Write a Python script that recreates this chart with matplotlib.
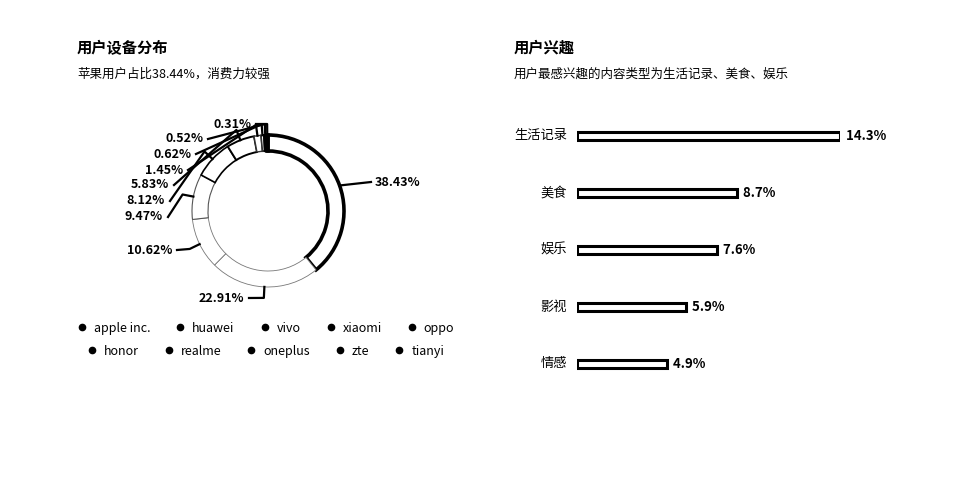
import matplotlib
matplotlib.use('Agg')
import matplotlib.pyplot as plt
import numpy as np

plt.rcParams['font.family'] = ['Noto Sans CJK SC', 'DejaVu Sans']

"------------------DATA"
brands = ['apple inc.', 'huawei', 'vivo', 'xiaomi', 'oppo',
          'honor', 'realme', 'oneplus', 'zte', 'tianyi']
shares = [38.43, 22.91, 10.62, 9.47, 8.12, 5.83, 1.45, 0.62, 0.52, 0.31]

topics = ['生活记录', '美食', '娱乐', '影视', '情感']
topic_pct = [14.3, 8.7, 7.6, 5.9, 4.9]

title_left = '用户设备分布'
sub_left = '苹果用户占比38.44%，消费力较强'
title_right = '用户兴趣'
sub_right = '用户最感兴趣的内容类型为生活记录、美食、娱乐'
"----------------------------"

W, H = 972, 490
fig = plt.figure(figsize=(W/100, H/100), dpi=100)
ax = fig.add_axes([0, 0, 1, 1])

def Y(y):
    # pixel row -> data y (axes runs bottom-up)
    return H - y

# titles
ax.text(77, Y(48), title_left, fontsize=11, fontweight='bold', va='center')
ax.text(77, Y(74), sub_left, fontsize=9, va='center')
ax.text(514, Y(48), title_right, fontsize=11, fontweight='bold', va='center')
ax.text(514, Y(74), sub_right, fontsize=9, va='center')

# donut
cx, cy, R, ring = 268, Y(211), 76, 16
edge_w = [2.6, 0.6, 0.6, 0.8, 1.2, 1.4, 1.0, 1.2, 1.5, 2.5]
edge_c = ['black', '#777777', '#777777', '#555555', 'black',
          'black', '#333333', '#333333', 'black', 'black']
wedges, _ = ax.pie(shares, center=(cx, cy), radius=R, startangle=90,
                   counterclock=False,
                   wedgeprops=dict(width=ring, facecolor='white'))
for w, lw, ec in zip(wedges, edge_w, edge_c):
    w.set_edgecolor(ec)
    w.set_linewidth(lw)

# label placement (pixel rows / right end of text), leader lines drawn from wedge mid
lab_y = [182, 298, 250, 217, 201, 185, 170, 154, 139, 124]
lab_x = [375, 244, 172, 163, 165, 169, 183, 191, 203, 251]
total = sum(shares)
start = 0.0
for i, v in enumerate(shares):
    mid = (start + v/2) / total * 2*np.pi
    start += v
    px, py = cx + R*np.sin(mid), cy + R*np.cos(mid)
    ex, ey = cx + (R+11)*np.sin(mid), cy + (R+11)*np.cos(mid)
    txt = '%.2f%%' % v
    if i == 0:
        ax.plot([px, lab_x[i]-4], [py, Y(lab_y[i])], color='black', lw=1.6)
        ax.text(lab_x[i], Y(lab_y[i]), txt, fontsize=9, fontweight='bold',
                ha='left', va='center')
    else:
        ax.plot([px, ex, lab_x[i]+5], [py, ey, Y(lab_y[i])],
                color='black', lw=1.6)
        ax.text(lab_x[i], Y(lab_y[i]), txt, fontsize=9, fontweight='bold',
                ha='right', va='center')

# legend, two centred rows
fig.canvas.draw()
rend = fig.canvas.get_renderer()
rows = [brands[:5], brands[5:]]
row_y = [327, 350]
for names, ry in zip(rows, row_y):
    widths = []
    for nm in names:
        t = ax.text(0, 0, nm, fontsize=9)
        widths.append(t.get_window_extent(rend).width)
        t.remove()
    total_w = sum(12 + w for w in widths) + 30*(len(names)-1)
    x = 268 - total_w/2
    for nm, w in zip(names, widths):
        ax.plot(x, Y(ry), 'o', color='black', ms=4.5)
        ax.text(x+12, Y(ry), nm, fontsize=9, va='center_baseline')
        x += 12 + w + 30

ax.set_xlim(0, W)
ax.set_ylim(0, H)
ax.set_aspect('auto')
ax.axis('off')

# bar chart
x0, x1 = 577, 840
top, step = 136, 57
ax2 = fig.add_axes([x0/W, 1 - (top + step*4.5)/H, (x1-x0)/W, step*5/H])
ypos = np.arange(len(topics))
ax2.barh(ypos, topic_pct, height=0.14, color='white', edgecolor='black', linewidth=2.2)
ax2.set_xlim(0, max(topic_pct))
ax2.set_ylim(4.5, -0.5)
for yy, v in zip(ypos, topic_pct):
    ax2.text(v, yy, '  %.1f%%' % v, fontsize=9.5, fontweight='bold',
             va='center', ha='left', clip_on=False)
    ax2.text(-0.55, yy, topics[yy], fontsize=9.5, va='center', ha='right')
ax2.axis('off')

fig.savefig('out.png', dpi=100)
